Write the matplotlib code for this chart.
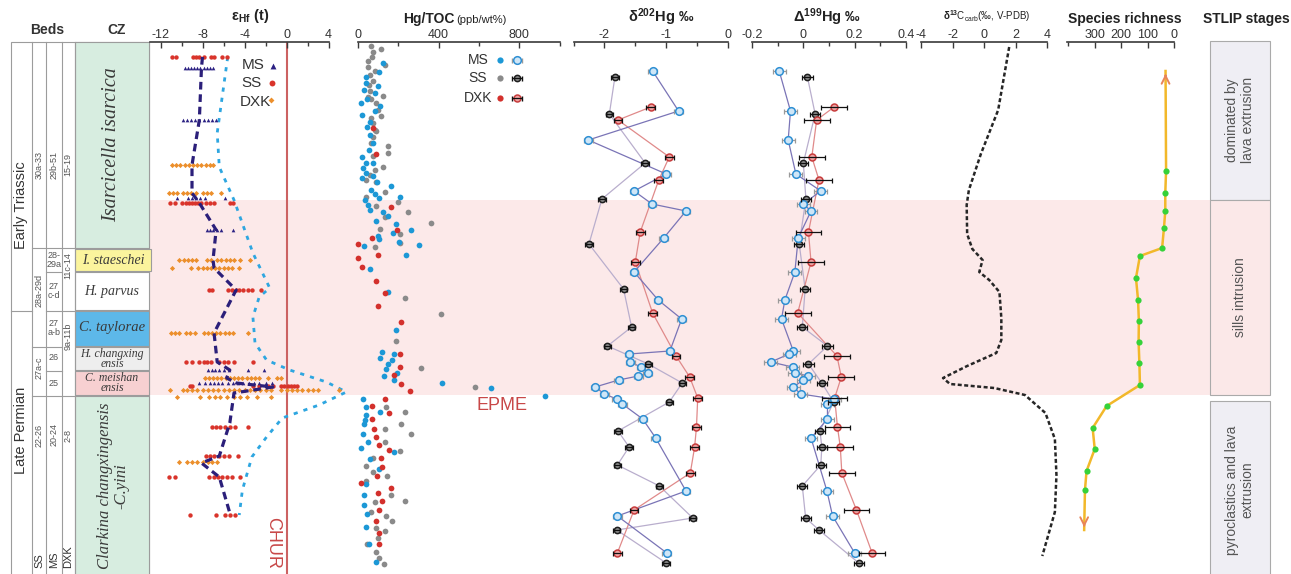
import matplotlib.pyplot as plt
from matplotlib.patches import Rectangle

plt.rcParams['font.family'] = ['Liberation Sans', 'DejaVu Sans']
plt.rcParams['mathtext.fontset'] = 'custom'
plt.rcParams['mathtext.rm'] = 'Liberation Sans'
plt.rcParams['mathtext.bf'] = 'Liberation Sans:bold'
plt.rcParams['mathtext.default'] = 'bf'
plt.rcParams['axes.unicode_minus'] = False

# vertical position of every sample is given as a stratigraphic level
# (same units for all columns, top of section = 42, base = 574)

# ---- eHf(t) : one row of zircon values per sampled level ----
hf_ss_lv = [57, 203, 290, 362, 386, 427, 456, 477, 515]
hf_ss = [
    [-10.9, -10.5, -8.9, -8.6, -8.3, -7.9, -7.2, -6.9, -6.1, -5.7],
    [-11.1, -10.6, -10.0, -9.6, -9.3, -9.0, -8.7, -8.4, -8.1, -7.7, -7.3, -6.9, -5.4, -5.1],
    [-7.4, -7.1, -5.6, -5.2, -4.8, -4.5, -4.1, -3.7, -3.3, -2.4],
    [-9.6, -9.0, -8.3, -7.9, -7.6, -7.2, -6.4, -6.0, -5.6, -5.0, -3.2],
    [-9.2, -9.0, -3.2, -2.6, -1.8, -1.3, -0.5, -0.2, 0.1, 0.4, 0.7, 1.0],
    [-7.1, -6.7, -6.3, -5.9, -5.4, -4.9, -3.7],
    [-7.7, -7.3, -6.9, -6.4, -6.0, -5.5, -4.6],
    [-11.2, -10.6, -7.4, -6.9, -6.5, -6.1, -5.7, -5.2, -4.4],
    [-9.2, -6.7, -5.9, -5.4, -4.9],
]
hf_ms_lv = [68, 120, 198, 230, 370, 383]
hf_ms = [
    [-9.7, -9.4, -9.1, -8.8, -8.5, -8.2, -7.9, -7.6, -7.3, -7.0],
    [-9.9, -9.5, -9.1, -8.7, -8.3, -7.9, -7.5, -7.1, -6.7],
    [-10.4, -9.4, -9.0, -8.6, -8.2, -7.8, -5.9],
    [-7.6, -7.3, -7.0, -6.6, -6.2, -5.1],
    [-7.5, -7.1, -6.8, -6.4, -6.0, -5.5, -3.7, -2.1],
    [-8.3, -7.8, -7.3, -6.9, -6.5, -6.1, -5.6, -5.1, -4.6, -4.1, -3.6, -3.1, -2.6, -2.0, -1.4],
]
hf_dxk_lv = [165, 193, 260, 268, 333, 378, 390, 397, 462]
hf_dxk = [
    [-10.9, -10.5, -10.1, -9.7, -9.3, -8.9, -8.5, -8.1, -7.7, -7.3, -7.0],
    [-11.2, -10.8, -10.4, -9.9, -9.5, -9.1, -8.6, -8.0, -7.6, -7.2, -6.2],
    [-10.2, -9.8, -9.4, -9.0, -8.6, -7.6, -7.2, -6.6, -6.2, -5.8, -5.4, -5.0, -4.4, -3.5],
    [-10.9, -9.1, -8.4, -8.0, -7.6, -7.2, -6.8, -6.4, -6.0, -5.6, -5.2, -4.5],
    [-11.0, -10.6, -10.2, -9.6, -9.2, -8.7, -7.9, -7.5, -7.1, -6.7, -6.3, -5.9, -5.5, -5.1, -3.7],
    [-7.8, -7.4, -7.0, -6.6, -6.2, -5.8, -5.4, -5.0, -4.6, -4.2, -3.8, -3.4, -3.0, -2.6, -1.8, -0.9, -0.5],
    [-11.1, -9.9, -9.5, -9.0, -8.5, -8.0, -7.5, -7.0, -6.5, -6.0, -5.5, -5.0, -4.5, -4.0, -3.5,
     -3.0, -2.5, -2.0, -1.5, -0.5, 0.0, 0.5, 1.0, 1.5, 2.0, 2.5, 3.0, 5.0],
    [-10.4, -8.2, -7.4, -6.8, -6.3, -5.7, -5.0, -4.4, -3.8, -2.8, -1.5],
    [-10.2, -9.5, -9.0, -8.5, -8.0, -7.5, -7.1, -6.6],
]
hf_mean_lv = [57, 68, 120, 165, 193, 203, 230, 260, 268, 290, 333, 362, 370, 378, 383, 387,
              393, 423, 456, 463, 477, 513]
hf_mean = [-8.0, -8.1, -8.3, -9.0, -9.0, -8.3, -6.7, -7.0, -6.9, -4.8, -6.9, -6.6, -5.4, -5.7,
           -4.8, -1.3, -5.0, -5.4, -6.4, -8.1, -6.4, -5.4]
hf_max_lv = [57, 133, 167, 200, 253, 288, 297, 317, 343, 360, 370, 382, 392, 405, 418, 437,
             457, 490, 515]
hf_max = [-5.6, -6.6, -6.4, -5.0, -3.2, -1.6, -2.6, -3.2, -3.0, -1.9, 0.3, 3.8, 5.7, 3.1,
          -0.4, -1.9, -3.3, -4.2, -4.5]

# ---- Hg/TOC (ppb/wt%) ----
hg_ss_lv = [46, 49, 52, 57, 61, 65, 67, 71, 75, 81, 85, 91, 96, 97, 99, 103, 110, 116, 118, 123,
            130, 131, 137, 143, 146, 153, 156, 167, 170, 175, 180, 182, 192, 197, 202, 206, 212,
            217, 223, 229, 234, 243, 247, 298, 314, 341, 368, 387, 407, 412, 424, 429, 434, 442,
            451, 458, 466, 472, 476, 481, 495, 501, 502, 512, 516, 521, 528, 531, 538, 544, 552,
            558, 564]
hg_ss = [66, 116, 74, 71, 50, 132, 50, 83, 58, 74, 55, 61, 124, 50, 66, 91, 99, 116, 66, 74,
         83, 91, 74, 66, 149, 149, 74, 124, 83, 61, 41, 91, 132, 41, 198, 91, 248,
         132, 364, 108, 207, 210, 83, 232, 414, 190, 314, 579, 137, 232, 212, 132, 265, 132,
         207, 74, 41, 74, 146, 41, 162, 232, 83, 66, 141, 170, 91, 136, 99, 45, 91,
         104, 129]
hg_ms_lv = [63, 72, 77, 83, 86, 90, 93, 99, 103, 106, 111, 115, 122, 127, 135, 143, 150, 157,
            163, 163, 168, 173, 176, 178, 182, 186, 190, 194, 197, 198, 200, 205, 210, 212, 216,
            221, 224, 230, 233, 236, 239, 242, 245, 246, 255, 269, 292, 330, 352, 354, 358, 360,
            364, 369, 373, 376, 380, 383, 388, 396, 399, 407, 412, 415, 420, 424, 434, 442, 448,
            452, 459, 469, 484, 495, 505, 514, 527, 544, 562]
hg_ms = [124, 104, 41, 38, 99, 28, 83, 45, 17, 111, 83, 22, 58, 45, 61, 74, 55, 22,
         38, 74, 25, 38, 74, 22, 94, 165, 66, 83, 207, 104, 33, 50, 58, 124, 149,
         88, 187, 265, 174, 99, 104, 203, 303, 28, 237, 58, 149, 190, 121, 179, 108, 170,
         149, 141, 194, 129, 177, 418, 662, 926, 25, 38, 108, 38, 33, 28, 25, 50, 13,
         179, 58, 104, 38, 28, 28, 45, 38, 55, 91]
hg_dxk_lv = [128, 154, 207, 230, 238, 244, 255, 258, 267, 281, 293, 306, 322, 354, 367, 375,
             384, 391, 399, 406, 413, 419, 429, 437, 445, 450, 458, 467, 476, 483, 488, 493,
             501, 510, 521, 533, 544]
hg_dxk = [74, 88, 165, 194, 71, 2, 99, 2, 22, 88, 132, 99, 215, 207, 207, 177,
          215, 256, 136, 69, 154, 69, 78, 88, 104, 154, 116, 121, 94, 17, 165, 99,
          121, 104, 88, 104, 104]

# ---- Hg isotopes (permil) ----
ms_lv = [71, 111, 140, 174, 191, 204, 211, 238, 272, 300, 319, 351, 354, 362, 367, 373, 376,
         380, 387, 394, 399, 404, 419, 438, 491, 516, 553]
ms_d202 = [-1.22, -0.80, -2.26, -1.00, -1.52, -1.23, -0.68, -1.04, -1.52, -1.13, -0.75, -0.94,
           -1.60, -1.58, -1.41, -1.30, -1.45, -1.77, -2.15, -2.00, -1.80, -1.71, -1.38, -1.17,
           -0.68, -1.79, -0.99]
ms_D199 = [-0.094, -0.050, -0.059, -0.029, 0.068, 0.000, 0.030, -0.020, -0.033, -0.072, -0.085,
           -0.039, -0.055, -0.127, -0.042, -0.033, 0.020, 0.000, -0.039, -0.010, 0.120, 0.094,
           0.094, 0.030, 0.092, 0.114, 0.200]
ss_lv = [77, 114, 163, 199, 244, 289, 327, 346, 364, 383, 402, 431, 447, 465, 486, 518, 530, 563]
ss_d202 = [-1.83, -1.92, -1.34, -2.04, -2.25, -1.69, -1.56, -1.95, -1.29, -0.74, -0.95, -1.78,
           -1.60, -1.79, -1.11, -0.57, -1.80, -1.00]
ss_D199 = [0.016, 0.046, 0.000, 0.010, -0.016, 0.007, -0.004, 0.094, 0.020, 0.072, 0.118, 0.065,
           0.072, 0.068, -0.004, 0.009, 0.061, 0.216]
dxk_lv = [107, 120, 157, 180, 232, 262, 313, 356, 377, 398, 427, 447, 473, 510, 553]
dxk_d202 = [-1.25, -1.78, -0.95, -1.12, -1.42, -1.50, -1.22, -0.84, -0.62, -0.49, -0.51, -0.54,
            -0.61, -1.52, -1.79]
dxk_D199 = [0.120, 0.052, 0.033, 0.061, 0.020, 0.030, -0.022, 0.131, 0.148, 0.122, 0.133, 0.144,
            0.150, 0.207, 0.268]
err202 = {'MS': 0.07, 'SS': 0.06, 'DXK': 0.07}
err199 = {'MS': 0.025, 'SS': 0.02, 'DXK': 0.05}

# ---- d13C carb curve ----
c13_lv = [47, 110, 154, 190, 205, 234, 249, 260, 272, 280, 292, 318, 340, 353, 366, 378, 384,
          388, 395, 413, 439, 475, 512, 556]
c13 = [1.6, 0.9, -0.2, -0.96, -1.1, -1.07, -0.74, -0.09, -0.3, 0.33, 0.98, 1.1, 1.1, 0.78,
       -1.07, -2.6, -2.16, 0.65, 2.6, 3.9, 4.5, 4.6, 4.5, 3.7]

# ---- species richness ----
sp_lv = [171, 193, 211, 228, 248, 256, 278, 300, 321, 342, 363, 385, 406, 428, 449, 471, 490]
sp = [30, 33, 33, 38, 45, 129, 144, 136, 133, 134, 131, 129, 255, 308, 300, 331, 337]
sp_tip_lv = [71, 530]
sp_tip = [32, 340]

W, H, TOP = 1291, 574, 42
fig = plt.figure(figsize=(W / 100, H / 100), dpi=100)
bg = fig.add_axes([0, 0, 1, 1])
bg.set_xlim(0, W)
bg.set_ylim(H, 0)
bg.axis('off')

GRID = '#9c9c9c'
TXT = '#333333'


def box(x0, y0, x1, y1, fc, ec=GRID, lw=0.8, z=1):
    bg.add_patch(Rectangle((x0, y0), x1 - x0, y1 - y0, fc=fc, ec=ec, lw=lw, zorder=z))


def hline(y, x0, x1):
    bg.plot([x0, x1], [y, y], color=GRID, lw=0.8, zorder=3)


# pink "sills intrusion" band
box(149, 200, 1210, 395, '#fce9e9', ec='none', z=0)

# ---- stratigraphic column ----
box(11, 42, 149, 590, 'white')
for x in (32, 46, 62, 75):
    bg.plot([x, x], [42, 590], color=GRID, lw=0.8, zorder=3)
hline(248, 32, 75)
hline(272, 46, 62)
hline(311, 11, 32)
hline(311, 46, 75)
hline(347, 32, 62)
hline(371, 46, 62)
hline(396, 32, 75)

box(75, 42, 149, 248, '#d7ede0', z=2)
box(75, 249, 151, 271, '#fbf49d', z=2)
box(75, 272, 149, 310, 'white', z=2)
box(75, 311, 149, 346, '#5db8e9', z=2)
box(75, 347, 149, 370, '#eeeeee', z=2)
box(75, 371, 149, 395, '#f7d0d1', z=2)
box(75, 396, 149, 590, '#d7ede0', z=2)

bg.text(47, 30, 'Beds', ha='center', va='center', fontsize=10, fontweight='bold', color=TXT)
bg.text(117, 30, 'CZ', ha='center', va='center', fontsize=10, fontweight='bold', color=TXT)
bg.text(21, 205, 'Early Triassic', rotation=90, ha='center', va='center', fontsize=10.5, color=TXT)
bg.text(21, 430, 'Late Permian', rotation=90, ha='center', va='center', fontsize=10.5, color=TXT)

bed_kw = dict(ha='center', va='center', fontsize=6.5, color='#555555', zorder=4)
for t, x, y in [('30a-33', 39, 165), ('29b-51', 54, 165), ('15-19', 68, 165),
                ('28a-29d', 39, 290), ('11c-14', 68, 266), ('9a-11b', 68, 336),
                ('27a-c', 39, 368), ('22-26', 39, 435), ('20-24', 54, 435), ('2-8', 68, 435)]:
    bg.text(x, y, t, rotation=90, **bed_kw)
for t, y in [('28-\n29a', 260), ('27\nc-d', 291), ('27\na-b', 328), ('26', 358), ('25', 384)]:
    bg.text(54, y, t, linespacing=0.9, **bed_kw)
for t, x in [('SS', 39), ('MS', 54), ('DXK', 68)]:
    bg.text(x, 568, t, rotation=90, ha='center', va='bottom', fontsize=8, color=TXT)

cz_kw = dict(ha='center', va='center', family='Liberation Serif', style='italic',
             color='#3a3a3a', zorder=4)
bg.text(112, 145, 'Isarcicella isarcica', rotation=90, fontsize=14.5, **cz_kw)
bg.text(113, 260, 'I. staeschei', fontsize=10, **cz_kw)
bg.text(112, 291, 'H. parvus', fontsize=10, **cz_kw)
bg.text(112, 328, 'C. taylorae', fontsize=10.5, **cz_kw)
bg.text(112, 359, 'H. changxing\nensis', fontsize=8.5, linespacing=0.75, **cz_kw)
bg.text(112, 383, 'C. meishan\nensis', fontsize=8.5, linespacing=0.75, **cz_kw)
bg.text(113, 486, 'Clarkina changxingensis\n-C.yini', rotation=90, fontsize=12,
        linespacing=1.0, **cz_kw)

# ---- STLIP stages ----
box(1210, 41, 1270, 200, '#efeef4', ec='#aaaaaa')
box(1210, 200, 1270, 395, '#fbe8e8', ec='#aaaaaa')
box(1210, 401, 1270, 590, '#efeef4', ec='#aaaaaa')
st_kw = dict(rotation=90, ha='center', va='center', fontsize=10, color='#555555', linespacing=1.1)
bg.text(1240, 120, 'dominated by\nlava extrusion', **st_kw)
bg.text(1240, 297, 'sills intrusion', **st_kw)
bg.text(1240, 490, 'pyroclastics and lava\nextrusion', **st_kw)


def panel(x0, x1, lo, hi, major, minor, labels=None):
    ax = fig.add_axes([x0 / W, 0, (x1 - x0) / W, (H - TOP) / H])
    ax.set_xlim(lo, hi)
    ax.set_ylim(H, TOP)
    ax.patch.set_visible(False)
    for s in ('left', 'right', 'bottom'):
        ax.spines[s].set_visible(False)
    ax.spines['top'].set_linewidth(1.2)
    ax.spines['top'].set_color('#3a3a3a')
    ax.xaxis.set_ticks_position('top')
    ax.set_xticks(major)
    if labels is not None:
        ax.set_xticklabels(labels)
    ax.set_xticks(minor, minor=True)
    ax.tick_params(axis='x', which='both', direction='in', color='#3a3a3a',
                   labelcolor=TXT, labelsize=9, pad=1)
    ax.tick_params(axis='x', which='major', length=4, width=1)
    ax.tick_params(axis='x', which='minor', length=3, width=1)
    ax.set_yticks([])
    return ax


title_kw = dict(ha='center', va='center', fontsize=10.5, color='#222222')

# ---- eHf(t) ----
axh = panel(150, 328.5, -13, 4, [-12, -8, -4, 0, 4], [-10, -6, -2, 2])
bg.text(250, 16, r'$\varepsilon_{Hf}$ (t)', fontweight='bold', **title_kw)
axh.axvline(0, color='#cc6262', lw=1.5, zorder=1)
axh.plot(hf_max, hf_max_lv, color='#2ea6e0', lw=2.0, dashes=(1.5, 2.2), zorder=2, clip_on=False)
for lv, vals in zip(hf_dxk_lv, hf_dxk):
    axh.scatter(vals, [lv] * len(vals), s=7, marker='D', c='#ec8f2c', lw=0, zorder=3, clip_on=False)
for lv, vals in zip(hf_ss_lv, hf_ss):
    axh.scatter(vals, [lv] * len(vals), s=10, c='#d9342b', lw=0, zorder=3, clip_on=False)
for lv, vals in zip(hf_ms_lv, hf_ms):
    axh.scatter(vals, [lv] * len(vals), s=7, marker='^', c='#2b2183', lw=0, zorder=4, clip_on=False)
axh.plot(hf_mean, hf_mean_lv, color='#2b1f7a', lw=2.3, dashes=(2.4, 1.5), zorder=5)
bg.text(273, 543, 'CHUR', rotation=270, ha='center', va='center', fontsize=13, color='#c84848')
lg_kw = dict(ha='center', va='center', fontsize=11, color=TXT)
bg.text(253, 65, 'MS', **lg_kw)
bg.text(251, 83, 'SS', **lg_kw)
bg.text(255, 102, 'DXK', **lg_kw)
bg.scatter([273], [66], s=18, marker='^', c='#2b2183', lw=0, zorder=5)
bg.scatter([272], [83], s=18, c='#d9342b', lw=0, zorder=5)
bg.scatter([271], [100], s=9, marker='D', c='#ec8f2c', lw=0, zorder=5)

# ---- Hg/TOC ----
axg = panel(358, 559.5, 0, 1000, [0, 400, 800], [200, 600, 1000])
bg.text(455, 19, 'Hg/TOC', ha='right', va='center', fontsize=10, fontweight='bold', color='#222222')
bg.text(456, 20, '(ppb/wt%)', ha='left', va='center', fontsize=8, color='#222222')
axg.scatter(hg_ss, hg_ss_lv, s=17, c='#8a8a8a', lw=0, zorder=3, clip_on=False)
axg.scatter(hg_ms, hg_ms_lv, s=17, c='#1c98d6', lw=0, zorder=3, clip_on=False)
axg.scatter(hg_dxk, hg_dxk_lv, s=17, c='#d3302c', lw=0, zorder=4, clip_on=False)
bg.text(502, 405, 'EPME', ha='center', va='center', fontsize=13, color='#c84848')

STY = {
    'MS': dict(line='#7a74b6', mfc='#cfe6f7', mec='#2e8fd3', ecol='#9a9a9a', ms=5.5, ez=3),
    'SS': dict(line='#b9aecd', mfc='#8c8c8c', mec='#1e1e1e', ecol='#111111', ms=4.5, ez=5),
    'DXK': dict(line='#e08a8a', mfc='#eea3a3', mec='#c73c3c', ecol='#111111', ms=5, ez=5),
}


def iso(ax, vals, lv, err, key):
    st = STY[key]
    ax.plot(vals, lv, color=st['line'], lw=0.9, zorder=2)
    ax.errorbar(vals, lv, xerr=err, fmt='none', ecolor=st['ecol'], elinewidth=0.9,
                capsize=1.8, capthick=0.9, zorder=st['ez'])
    ax.plot(vals, lv, ls='none', marker='o', ms=st['ms'], mfc=st['mfc'], mec=st['mec'],
            mew=1.1, zorder=4)


# legend of Hg panels
for y, key, c in [(60, 'MS', '#1c98d6'), (78, 'SS', '#8a8a8a'), (98, 'DXK', '#d3302c')]:
    st = STY[key]
    bg.text(478, y, key, ha='center', va='center', fontsize=10, color=TXT)
    bg.scatter([500], [y], s=20, c=c, lw=0, zorder=5)
    bg.errorbar([517], [y], xerr=5, fmt='none', ecolor=st['ecol'], elinewidth=0.9,
                capsize=1.8, zorder=st['ez'] + 2)
    bg.plot([517], [y], marker='o', ms=st['ms'], mfc=st['mfc'], mec=st['mec'], mew=1.1, zorder=6)

# ---- d202Hg ----
ax2 = panel(573.5, 728, -2.5, 0, [-2, -1, 0], [-2.5, -1.5, -0.5])
bg.text(661, 17, r'$\delta^{202}$Hg ‰', fontweight='bold', **title_kw)
iso(ax2, ss_d202, ss_lv, err202['SS'], 'SS')
iso(ax2, dxk_d202, dxk_lv, err202['DXK'], 'DXK')
iso(ax2, ms_d202, ms_lv, err202['MS'], 'MS')

# ---- D199Hg ----
ax9 = panel(752, 906, -0.2, 0.4, [-0.2, 0, 0.2, 0.4], [-0.1, 0.1, 0.3],
            ['-0.2', '0', '0.2', '0.4'])
bg.text(827, 17, r'$\Delta^{199}$Hg ‰', fontweight='bold', **title_kw)
iso(ax9, ss_D199, ss_lv, err199['SS'], 'SS')
iso(ax9, dxk_D199, dxk_lv, err199['DXK'], 'DXK')
iso(ax9, ms_D199, ms_lv, err199['MS'], 'MS')

# ---- d13C carb ----
axc = panel(921, 1047, -4, 4, [-4, -2, 0, 2, 4], [])
bg.text(987, 16, r'$\delta^{13}$C$_{\rm carb}$(‰, V-PDB)', ha='center', va='center',
        fontsize=7, color='#222222')
axc.plot(c13, c13_lv, color='#262626', lw=1.8, dashes=(1.6, 1.0), clip_on=False)

# ---- species richness ----
axs = panel(1067, 1174, 405, 0, [300, 200, 100, 0], [400])
bg.text(1125, 19, 'Species richness', ha='center', va='center', fontsize=10,
        fontweight='bold', color='#222222')
axs.plot([sp_tip[0]] + sp + [sp_tip[1]], [sp_tip_lv[0]] + sp_lv + [sp_tip_lv[1]],
         color='#f2b82a', lw=1.8, zorder=2)
for v, lv, d in [(sp_tip[0], sp_tip_lv[0], 9), (sp_tip[1], sp_tip_lv[1], -9)]:
    axs.annotate('', xy=(v, lv), xytext=(v, lv + d),
                 arrowprops=dict(arrowstyle='->', color='#e8845a', lw=1.4, mutation_scale=14))
axs.scatter(sp, sp_lv, s=20, c='#35d23a', lw=0, zorder=3)

bg.text(1246, 19, 'STLIP stages', ha='center', va='center', fontsize=10,
        fontweight='bold', color='#222222')

fig.savefig('out.png', dpi=100)
